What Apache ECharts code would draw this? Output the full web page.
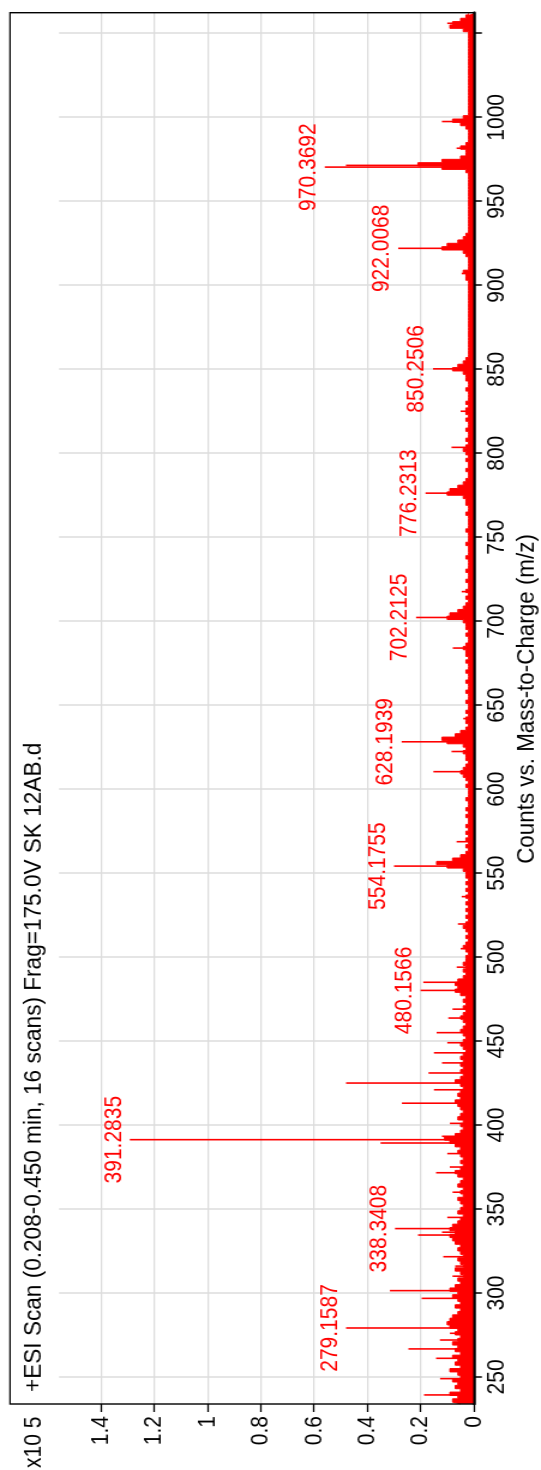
<!DOCTYPE html>
<html>
<head>
<meta charset="utf-8">
<script src="https://cdn.jsdelivr.net/npm/echarts@6/dist/echarts.min.js"></script>
<style>
  html, body { margin: 0; padding: 0; background: #fff; overflow: hidden; }
  #wrap { position: absolute; left: 0; top: 0; width: 541px; height: 1470px; overflow: hidden; }
  /* landscape spectrum, stretched 1.2x across the counts direction and turned a quarter-turn counter-clockwise */
  #chart { position: absolute; left: 0; top: 0; width: 1470px; height: 451px;
           transform-origin: 0 0; transform: rotate(-90deg) translateX(-1470px) scale(1, 1.19956); }
</style>
</head>
<body>
<div id="wrap"><div id="chart"></div></div>
<script>
// ---- axis settings (m/z and counts x10^5) ----
const mzMin = 233.9;
const mzMax = 1062.3;
const mzTicks = [250, 300, 350, 400, 450, 500, 550, 600, 650, 700, 750, 800, 850, 900, 950, 1000, 1050];
const mzTickLabels = [250, 300, 350, 400, 450, 500, 550, 600, 650, 700, 750, 800, 850, 900, 950, 1000];
const countMax = 1.556;
const countTicks = [0, 0.2, 0.4, 0.6, 0.8, 1, 1.2, 1.4];

// ---- baseline profile (counts x10^5), sampled every 2 m/z from 234 ----
const baseStart = 234;
const baseStep = 2;
const base234 = [0.05,0.08,0.06,0.09,0.05,0.07,0.06,0.08,0.05,0.06,0.09,0.05,0.07,0.06,0.08,0.05,0.07,0.06,0.08,0.06,0.05,0.07,0.06,0.09,0.10,0.09,0.08,0.06,0.05,0.07,0.05,0.06,0.08];
const base300 = [0.06,0.09,0.07,0.05,0.06,0.04,0.05,0.07,0.04,0.05,0.06,0.04,0.05,0.06,0.05,0.07,0.08,0.09,0.07,0.09,0.08,0.06,0.05,0.04,0.06,0.05,0.04,0.05,0.06,0.04,0.05,0.04,0.06,0.05,0.04,0.06,0.07,0.05,0.04,0.05,0.04,0.05,0.06,0.05,0.07,0.09,0.11,0.07,0.05,0.04];
const base400 = [0.05,0.04,0.06,0.05,0.04,0.05,0.06,0.07,0.05,0.06,0.05,0.04,0.05,0.07,0.05,0.04,0.05,0.04,0.05,0.04,0.05,0.04,0.03,0.04,0.05,0.04,0.03,0.04,0.05,0.04,0.03,0.04,0.05,0.04,0.03,0.04,0.03,0.04,0.03,0.05,0.07,0.06,0.07,0.06,0.04,0.03,0.04,0.03,0.04,0.03];
const base500 = [0.03,0.02,0.03,0.04,0.03,0.02,0.03,0.02,0.03,0.04,0.03,0.02,0.03,0.02,0.03,0.02,0.03,0.02,0.03,0.02,0.03,0.02,0.03,0.02,0.03,0.03,0.04,0.10,0.14,0.08,0.05,0.03,0.02,0.03,0.02,0.03,0.02,0.03,0.02,0.03,0.02,0.02,0.03,0.02,0.03,0.02,0.02,0.03,0.02,0.02];
const base600 = [0.02,0.03,0.02,0.03,0.04,0.05,0.04,0.03,0.02,0.03,0.03,0.04,0.03,0.04,0.10,0.12,0.07,0.05,0.03,0.02,0.03,0.03,0.02,0.03,0.02,0.02,0.03,0.02,0.02,0.03,0.02,0.02,0.03,0.02,0.02,0.03,0.02,0.02,0.03,0.02,0.03,0.03,0.04,0.03,0.02,0.02,0.03,0.02,0.03,0.03];
const base700 = [0.04,0.10,0.09,0.06,0.04,0.03,0.02,0.03,0.02,0.03,0.02,0.02,0.03,0.02,0.02,0.03,0.02,0.02,0.02,0.03,0.02,0.02,0.02,0.03,0.02,0.02,0.02,0.03,0.02,0.02,0.02,0.02,0.03,0.02,0.02,0.03,0.03,0.04,0.10,0.09,0.06,0.04,0.03,0.02,0.02,0.03,0.02,0.02,0.03,0.02];
const base800 = [0.03,0.04,0.03,0.02,0.03,0.02,0.02,0.03,0.02,0.02,0.03,0.02,0.03,0.03,0.02,0.03,0.02,0.02,0.02,0.03,0.02,0.02,0.03,0.03,0.04,0.08,0.06,0.04,0.03,0.02,0.02,0.02,0.02,0.02,0.02,0.02,0.02,0.02,0.02,0.02,0.02,0.02,0.02,0.02,0.02,0.02,0.02,0.02,0.02,0.02];
const base900 = [0.02,0.02,0.03,0.03,0.04,0.02,0.02,0.02,0.02,0.03,0.04,0.12,0.10,0.06,0.04,0.03,0.02,0.02,0.02,0.02,0.02,0.02,0.02,0.02,0.02,0.02,0.02,0.02,0.02,0.02,0.02,0.02,0.02,0.02,0.03,0.12,0.21,0.12,0.05,0.03,0.03,0.05,0.03,0.02,0.02,0.02,0.02,0.03,0.05,0.08];
const base1000 = [0.04,0.02,0.02,0.02,0.02,0.02,0.02,0.02,0.02,0.02,0.02,0.02,0.02,0.02,0.02,0.02,0.02,0.02,0.02,0.02,0.02,0.02,0.02,0.02,0.02,0.02,0.04,0.09,0.08,0.05,0.03,0.02];

// ---- individual peaks (m/z, counts x10^5) ----
const peakMz  = [239.3, 249.0, 253.5, 261.1, 266.7, 272.0, 276.0, 296.8, 301.4, 310.0, 316.0, 321.6, 334.5, 336.2, 345.0, 360.0, 371.6, 375.0, 383.0, 389.3, 393.3, 401.0, 413.0, 425.0, 421.0, 431.0, 437.0, 443.0, 449.0, 455.0, 463.7, 469.0, 485.0, 494.0, 505.0, 519.7, 536.0, 568.7, 610.4, 622.4, 642.0, 684.0, 717.6, 803.5, 825.0, 907.0, 971.4, 981.6, 997.5, 1056.0];
const peakInt = [0.187, 0.127, 0.090, 0.142, 0.246, 0.127, 0.090, 0.196, 0.315, 0.080, 0.070, 0.115, 0.210, 0.120, 0.100, 0.080, 0.142, 0.090, 0.100, 0.350, 0.120, 0.090, 0.270, 0.480, 0.150, 0.170, 0.120, 0.150, 0.100, 0.140, 0.096, 0.080, 0.190, 0.065, 0.050, 0.060, 0.046, 0.065, 0.152, 0.084, 0.040, 0.079, 0.046, 0.084, 0.050, 0.046, 0.480, 0.065, 0.120, 0.100];

// ---- annotated peaks ----
const labelMz  = [279.1587, 338.3408, 391.2835, 480.1566, 554.1755, 628.1939, 702.2125, 776.2313, 850.2506, 922.0068, 970.3692];
const labelInt = [0.48, 0.296, 1.29, 0.20, 0.30, 0.271, 0.217, 0.181, 0.153, 0.284, 0.559];

const baseValues = [].concat(base234, base300, base400, base500, base600, base700, base800, base900, base1000);
const baseData = baseValues.map((v, i) => [baseStart + i * baseStep, v]);
const peakData = peakMz.map((m, i) => [m, peakInt[i]]);
const labelData = labelMz.map((m, i) => [m, labelInt[i]]);

const RED = '#ff0000';
const SANS = '"Liberation Sans", Arial, sans-serif';

const chart = echarts.init(document.getElementById('chart'), null, { renderer: 'canvas' });
chart.setOption({
  animation: false,
  backgroundColor: '#fff',
  grid: { left: 66, right: 12.7, top: 49.2, bottom: 55.9, containLabel: false },
  xAxis: {
    type: 'value',
    min: mzMin,
    max: mzMax,
    axisLine: { show: true, onZero: false, lineStyle: { color: '#000', width: 2.5 } },
    axisTick: { show: true, length: 6.7, customValues: mzTicks, lineStyle: { color: '#000', width: 1.5 } },
    axisLabel: { customValues: mzTickLabels, margin: 8.5, color: '#000', fontFamily: SANS, fontSize: 21,
                 formatter: v => String(v) },
    splitLine: { show: true, lineStyle: { color: '#dcdcdc', width: 1.5 } }
  },
  yAxis: {
    type: 'value',
    min: 0,
    max: countMax,
    axisLine: { show: false },
    axisTick: { show: true, length: 8, customValues: countTicks, lineStyle: { color: '#000', width: 1.3 } },
    axisLabel: { customValues: countTicks, margin: 12, color: '#000', fontFamily: SANS, fontSize: 21,
                 formatter: v => String(v) },
    splitLine: { show: true, lineStyle: { color: '#dcdcdc', width: 1.25 } }
  },
  series: [
    {
      name: 'profile', type: 'line', step: 'middle', data: baseData,
      symbol: 'none', lineStyle: { color: RED, width: 1 },
      areaStyle: { color: RED, opacity: 1 }, z: 2, silent: true
    },
    {
      name: 'peaks', type: 'bar', data: peakData, barWidth: 1.6, barGap: '-100%',
      itemStyle: { color: RED }, z: 3, silent: true
    },
    {
      name: 'annotated', type: 'bar', data: labelData, barWidth: 1.6, barGap: '-100%',
      itemStyle: { color: RED }, z: 4, silent: true,
      label: { show: true, position: 'top', distance: 3, color: RED,
               fontFamily: SANS, fontSize: 21,
               formatter: p => p.value[0].toFixed(4) }
    }
  ],
  graphic: [
    { type: 'rect', z: 100, silent: true,
      shape: { x: 66, y: 8.33, width: 1391.3, height: 386.8 },
      style: { fill: 'none', stroke: '#000', lineWidth: 1.4 } },
    { type: 'text', z: 100, x: 78, y: 28.3, scaleY: 0.92, silent: true,
      style: { text: '+ESI Scan (0.208-0.450 min, 16 scans) Frag=175.0V SK 12AB.d',
               fontFamily: SANS, fontSize: 22.6, fill: '#000', textAlign: 'left', textVerticalAlign: 'middle' } },
    { type: 'text', z: 100, x: 2, y: 28.3, silent: true,
      style: { text: 'x10 5', fontFamily: SANS, fontSize: 21, fill: '#000', textAlign: 'left', textVerticalAlign: 'middle' } },
    { type: 'text', z: 100, x: 771, y: 439, scaleY: 0.92, silent: true,
      style: { text: 'Counts vs. Mass-to-Charge (m/z)', fontFamily: SANS, fontSize: 22.4, fill: '#000',
               textAlign: 'center', textVerticalAlign: 'middle' } }
  ]
});
</script>
</body>
</html>
